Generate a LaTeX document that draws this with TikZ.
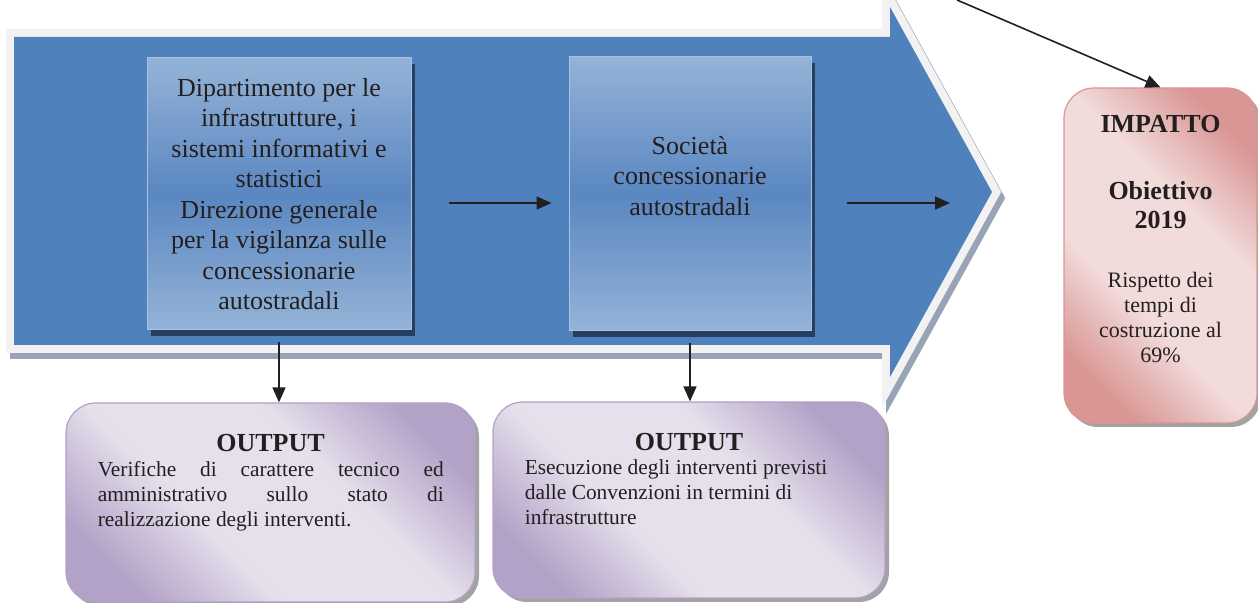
\documentclass[tikz,border=0pt]{standalone}
\usepackage{fontspec}
\setmainfont{Liberation Serif}
\usepackage{tikz}
\usetikzlibrary{calc, positioning, arrows.meta, shadows}
\definecolor{chevBlue}{HTML}{4F81BD}
\definecolor{rimGrey}{HTML}{F2F2F2}
\definecolor{rimShade}{HTML}{98A3B6}
\definecolor{cellLight}{HTML}{95B3D7}
\definecolor{cellMid}{HTML}{5A87C1}
\definecolor{cellEdge}{HTML}{A9C1E0}
\definecolor{cellShade}{HTML}{243F60}
\definecolor{lilacDark}{HTML}{B3A2C7}
\definecolor{lilacLight}{HTML}{E6E0EC}
\definecolor{roseDark}{HTML}{D99694}
\definecolor{roseLight}{HTML}{F2DCDB}
\definecolor{boxShade}{HTML}{A3A3A3}
\definecolor{inkBlack}{HTML}{231F20}
\pgfdeclareverticalshading{lilacband}{100bp}{color(0bp)=(lilacDark); color(24bp)=(lilacDark);
  color(40bp)=(lilacLight); color(60bp)=(lilacLight); color(76bp)=(lilacDark); color(100bp)=(lilacDark)}
\pgfdeclareverticalshading{roseband}{100bp}{color(0bp)=(roseDark); color(24bp)=(roseDark);
  color(40bp)=(roseLight); color(60bp)=(roseLight); color(76bp)=(roseDark); color(100bp)=(roseDark)}
\tikzset{
  chev/.style      = {fill=chevBlue, preaction={draw=rimGrey, line width=8pt, line join=miter}},
  chevshade/.style = {fill=rimShade, draw=rimShade, line width=8pt, line join=miter},
  celltext/.style  = {align=center, text=inkBlack, inner sep=0pt, font=\fontsize{13}{15.25}\selectfont},
  cell/.style      = {celltext, draw=cellEdge, line width=0.5pt, top color=cellLight, bottom color=cellLight,
                      middle color=cellMid,
                      drop shadow={shadow xshift=2pt, shadow yshift=-3pt, fill=cellShade, opacity=1}},
  outbox/.style    = {draw=lilacDark, line width=0.6pt, rounded corners=15pt, shade, shading=lilacband,
                      shading angle=-45,
                      drop shadow={shadow xshift=2pt, shadow yshift=-2pt, fill=boxShade, opacity=1}},
  impbox/.style    = {draw=roseDark, line width=0.6pt, rounded corners=15pt, shade, shading=roseband,
                      shading angle=-45,
                      drop shadow={shadow xshift=2pt, shadow yshift=-2pt, fill=boxShade, opacity=1}},
  head/.style      = {font=\fontsize{13}{14.5}\selectfont\bfseries, text=inkBlack, inner sep=0pt, align=center},
  body/.style      = {font=\fontsize{10.7}{12.5}\selectfont, text=inkBlack, inner sep=0pt},
  impbody/.style   = {font=\fontsize{11}{12.5}\selectfont, text=inkBlack, inner sep=0pt, align=center},
  fl/.style        = {-{Triangle[length=7.5pt, width=6.5pt]}, draw=inkBlack, line width=0.8pt}
}
\begin{document}
\begin{tikzpicture}[x=0.5pt, y=-0.5pt]
  \useasboundingbox (0,0) rectangle (1258,603);
  \clip (0,0) rectangle (1258,603);
  \fill[white] (0,0) rectangle (1258,603);
  \path[chevshade, shift={(4,6)}] (14,37) -- (890,37) -- (890,7) -- (992,192) -- (890,377) -- (890,345) -- (14,345) -- cycle;
  \path[chev] (14,37) -- (890,37) -- (890,7) -- (992,192) -- (890,377) -- (890,345) -- (14,345) -- cycle;

  \node[cell, minimum width=132pt, minimum height=136pt] (dept) at (279,194) {Dipartimento per le\\infrastrutture, i\\sistemi informativi e\\statistici\\Direzione generale\\per la vigilanza sulle\\concessionarie\\autostradali};
  \node[cell, minimum width=121pt, minimum height=137pt] (soc) at (690,194) {};
  \node[celltext] (soctxt) at ([yshift=9pt]soc.center) {Società\\concessionarie\\autostradali};
  \coordinate (tipend) at (950,203);
  \draw[fl, shorten <=18.5pt, shorten >=8.5pt] ([yshift=-4.5pt]dept.east) -- ([yshift=-4.5pt]soc.west);
  \draw[fl, shorten <=17.5pt] ([yshift=-4.5pt]soc.east) -- (tipend);

  \node[outbox, minimum width=204.5pt, minimum height=99.5pt] (outdept) at (270.5,502.5) {};
  \node[head, below=15.5pt of outdept.north] (outdepth) {OUTPUT};
  \node[body, text width=173pt, align=justify, anchor=north west] (outdeptb) at ($(outdept.west |- outdepth.south)+(32,9)$) {\hyphenpenalty=10000 \exhyphenpenalty=10000 Verifiche di carattere tecnico ed\linebreak amministrativo sullo stato di\linebreak realizzazione degli interventi.\par};
  \node[outbox, minimum width=196pt, minimum height=98pt] (outsoc) at (689,500) {};
  \node[head, below=15.5pt of outsoc.north] (outsoch) {OUTPUT};
  \node[body, align=left, anchor=north west] (outsocb) at ($(outsoc.west |- outsoch.south)+(32,9)$) {Esecuzione degli interventi previsti\\dalle Convenzioni in termini di\\infrastrutture};
  \draw[fl, shorten <=6pt] (dept.south) -- (dept.south |- outdept.north);
  \draw[fl, shorten <=6pt] (soc.south) -- (soc.south |- outsoc.north);

  \node[impbox, minimum width=96.5pt, minimum height=167.5pt] (imp) at (1160.5,255.5) {};
  \node[head, below=13.5pt of imp.north] (imph) {IMPATTO};
  \node[head, below=24pt of imph] (impo) {Obiettivo\\2019};
  \node[impbody, below=21.5pt of impo] (impr) {Rispetto dei\\tempi di\\costruzione al\\69\%};
  \coordinate (feed) at (957,0);
  \draw[fl] (feed) -- (imp.north);
\end{tikzpicture}
\end{document}
